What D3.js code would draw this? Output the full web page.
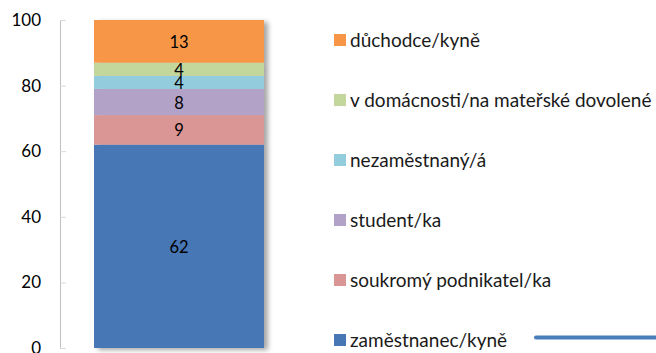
<!DOCTYPE html>
<html>
<head>
<meta charset="utf-8">
<script src="https://cdn.jsdelivr.net/npm/d3@7"></script>
<style>
  html, body { margin: 0; padding: 0; background: #fff; }
  svg { display: block; font-family: Lato, "Noto Sans", sans-serif; }
</style>
</head>
<body>
<svg id="chart" width="656" height="353"></svg>
<script>
// Status categories, bottom to top of the stack
const categories = [
  "zaměstnanec/kyně",
  "soukromý podnikatel/ka",
  "student/ka",
  "nezaměstnaný/á",
  "v domácnosti/na mateřské dovolené",
  "důchodce/kyně"
];
const shares = [62, 9, 8, 4, 4, 13];
const colors = ["#4677b4", "#d99694", "#b3a2c7", "#93cddd", "#c3d69b", "#f79646"];
const yTicks = [0, 20, 40, 60, 80, 100];

const svg = d3.select("#chart");

const row = {};
categories.forEach((c, i) => row[c] = shares[i]);
const series = d3.stack().keys(categories)([row]);

const y = d3.scaleLinear().domain([0, 100]).range([348, 20]);
const x = d3.scaleBand().domain(["all"]).range([94, 264]).padding(0);

// soft shadow behind the bar
const defs = svg.append("defs");
const f = defs.append("filter").attr("id", "shadow")
  .attr("x", "-10%").attr("y", "-10%").attr("width", "130%").attr("height", "130%");
f.append("feDropShadow").attr("dx", 4).attr("dy", 2).attr("stdDeviation", 2.5)
  .attr("flood-color", "#000").attr("flood-opacity", 0.35);

// y axis: light line, short ticks pointing right, labels on the left
const axis = svg.append("g").attr("transform", "translate(60,0)")
  .call(d3.axisRight(y).tickValues(yTicks).tickSize(6).tickFormat(""));
axis.select(".domain").attr("stroke", "#bfbfbf").attr("d", `M0.5,${y(100)}V${y(0)}`);
axis.selectAll(".tick line").attr("stroke", "#d9d9d9");

svg.append("g").selectAll("text").data(yTicks).join("text")
  .attr("x", 41).attr("y", d => y(d)).attr("dy", "0.35em")
  .attr("text-anchor", "end").attr("font-size", 17).attr("fill", "#000")
  .text(d => d);

// stacked bar
const barG = svg.append("g").attr("filter", "url(#shadow)");
barG.selectAll("rect").data(series).join("rect")
  .attr("x", x("all")).attr("width", x.bandwidth())
  .attr("y", d => y(d[0][1])).attr("height", d => y(d[0][0]) - y(d[0][1]))
  .attr("fill", (d, i) => colors[i]);

// value labels inside the segments
svg.append("g").selectAll("text").data(series).join("text")
  .attr("x", x("all") + x.bandwidth() / 2)
  .attr("y", d => y((d[0][0] + d[0][1]) / 2))
  .attr("dy", "0.4em").attr("text-anchor", "middle")
  .attr("font-size", 16.5).attr("fill", "#000")
  .text(d => d[0].data[d.key]);

// legend, top entry first
const legendY = d3.scalePoint().domain(categories.slice().reverse()).range([40, 340]);
const leg = svg.append("g").selectAll("g").data(categories).join("g")
  .attr("transform", d => `translate(334,${legendY(d)})`);
leg.append("rect").attr("x", 0).attr("y", -6).attr("width", 12).attr("height", 12)
  .attr("fill", (d, i) => colors[i]);
leg.append("text").attr("x", 16).attr("dy", "0.35em")
  .attr("font-size", 19).attr("fill", "#1a1a1a").text(d => d);

// decorative rule at the bottom right
svg.append("line").attr("x1", 536).attr("x2", 660).attr("y1", 337.5).attr("y2", 337.5)
  .attr("stroke", "#4a7ebb").attr("stroke-width", 4).attr("stroke-linecap", "round");
</script>
</body>
</html>
